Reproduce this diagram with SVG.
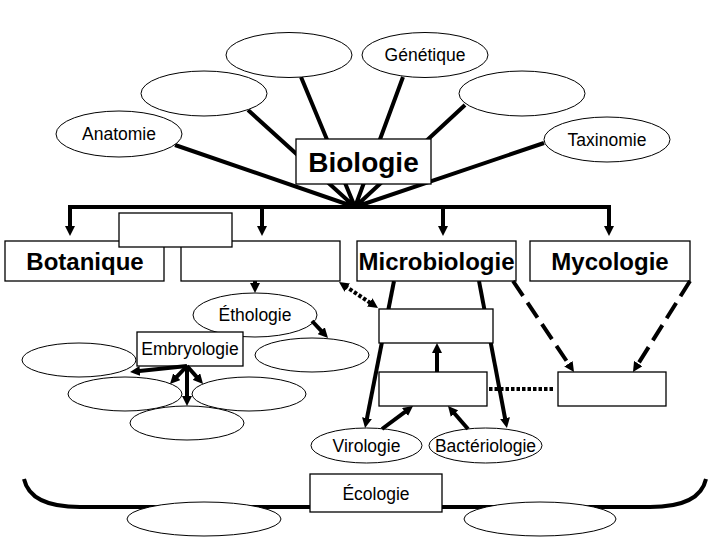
<svg xmlns="http://www.w3.org/2000/svg" width="720" height="540" viewBox="0 0 720 540">
<style>
.bx{fill:#fff;stroke:#000;stroke-width:1.3}
.el{fill:#fff;stroke:#000;stroke-width:1}
.t{font-family:"Liberation Sans",Arial,sans-serif;font-size:17.5px;fill:#000;text-anchor:middle}
.tb{font-family:"Liberation Sans",Arial,sans-serif;font-size:24px;font-weight:bold;fill:#000;text-anchor:middle}
.c{fill:none;stroke:#000;stroke-width:4}
.a{marker-end:url(#ah)}
.dot{stroke-dasharray:3.5 2}
.dash{stroke-dasharray:18 8}
</style>
<defs>
<marker id="ah" markerUnits="userSpaceOnUse" markerWidth="10" markerHeight="10" viewBox="0 0 10 10" refX="3" refY="5" orient="auto-start-reverse">
<path d="M0,0 L10,5 L0,10 Z" fill="#000"/>
</marker>
</defs>
<rect width="720" height="540" fill="#fff"/>

<g id="connectors">
<path class="c" d="M175,145 L355,207 M248,110 L355,207 M301,77 L355,207 M403,77 L355,207 M465,105 L355,207 M544,143 L355,207"/>
<path class="c" d="M68,207 H611"/>
<path class="c a" d="M70,207 V229"/>
<path class="c a" d="M262,207 V229"/>
<path class="c a" d="M443,207 V229"/>
<path class="c a" d="M609,207 V229"/>
<path class="c" d="M24,479 C28,497 45,507 80,507 L650,507 C685,507 702,497 706,479"/>
<path class="c a" d="M394,281 L366.4,421.1"/>
<path class="c a" d="M479,281 L505.6,421.1"/>
</g>

<g id="n-anatomie"><ellipse class="el" cx="119" cy="134" rx="63" ry="23"/><text class="t" x="119" y="140">Anatomie</text></g>
<g id="n-e1"><ellipse class="el" cx="204" cy="93.5" rx="63" ry="22.5"/></g>
<g id="n-e2"><ellipse class="el" cx="289" cy="55" rx="63" ry="22.5"/></g>
<g id="n-genetique"><ellipse class="el" cx="425" cy="55" rx="63" ry="22.5"/><text class="t" x="425" y="61">Génétique</text></g>
<g id="n-e3"><ellipse class="el" cx="522" cy="93.5" rx="63" ry="22.5"/></g>
<g id="n-taxinomie"><ellipse class="el" cx="607" cy="139.5" rx="63" ry="22.5"/><text class="t" x="607" y="145.5">Taxinomie</text></g>
<g id="n-biologie"><rect class="bx" x="296" y="139" width="135" height="45"/><text class="tb" style="font-size:28px" x="363.5" y="172">Biologie</text></g>

<g id="n-botanique"><rect class="bx" x="5" y="241" width="159" height="40"/><text class="tb" x="85" y="270">Botanique</text></g>
<g id="n-wide"><rect class="bx" x="181" y="241" width="159" height="40"/></g>
<g id="n-small"><rect class="bx" x="119" y="213" width="113" height="34"/></g>
<g id="n-microbiologie"><rect class="bx" x="357" y="241" width="159" height="40"/><text class="tb" x="436.5" y="270">Microbiologie</text></g>
<g id="n-mycologie"><rect class="bx" x="530" y="241" width="160" height="40"/><text class="tb" x="610" y="270">Mycologie</text></g>

<g id="n-ethologie"><ellipse class="el" cx="255" cy="315" rx="62" ry="22"/><text class="t" x="255" y="321">Éthologie</text></g>
<g id="n-e4"><ellipse class="el" cx="79" cy="360" rx="57" ry="17"/></g>
<g id="n-e5"><ellipse class="el" cx="312" cy="355" rx="57" ry="17"/></g>
<g id="n-e6"><ellipse class="el" cx="125" cy="394" rx="57" ry="17"/></g>
<g id="n-e7"><ellipse class="el" cx="249" cy="394" rx="57" ry="17"/></g>
<g id="n-e8"><ellipse class="el" cx="187" cy="423" rx="57" ry="17"/></g>
<g id="n-embryologie"><rect class="bx" x="137" y="332" width="106" height="34"/><text class="t" x="190" y="355">Embryologie</text></g>

<g id="n-boxA"><rect class="bx" x="379" y="309" width="114" height="34"/></g>
<g id="n-boxB"><rect class="bx" x="379" y="372" width="108" height="34"/></g>
<g id="n-boxC"><rect class="bx" x="558" y="372" width="108" height="34"/></g>
<g id="n-virologie"><ellipse class="el" cx="366.5" cy="445.5" rx="55.5" ry="17.5"/><text class="t" x="366.5" y="451.5">Virologie</text></g>
<g id="n-bacteriologie"><ellipse class="el" cx="485.5" cy="445.5" rx="56.5" ry="17.5"/><text class="t" x="485.5" y="451.5">Bactériologie</text></g>

<g id="n-e9"><ellipse class="el" cx="204" cy="519" rx="77" ry="17"/></g>
<g id="n-e10"><ellipse class="el" cx="540" cy="519" rx="76" ry="17"/></g>
<g id="n-ecologie"><rect class="bx" x="310" y="474" width="132" height="38"/><text class="t" x="376" y="499.5">Écologie</text></g>

<g id="connectors-2">
<path class="c a" d="M255,281 V286"/>
<path class="c a" d="M312,321 L323.2,332.9"/>
<path class="c a" d="M187,366 L137,371.3"/>
<path class="c a" d="M187,366 L174.8,378.9"/>
<path class="c a" d="M187,366 V399"/>
<path class="c a" d="M187,366 L198.4,378.8"/>
<path class="c dot" style="marker-start:url(#ah);marker-end:url(#ah)" d="M344.8,285.9 L372.2,304.1"/>
<path class="c a" d="M437,372 V350"/>
<path class="c a" d="M382,429 L407.4,410.2"/>
<path class="c a" d="M468,429 L452.6,411.3"/>
<path class="c dot" d="M489,389 H553"/>
<path class="c dash a" d="M513,281 L570.1,366.2"/>
<path class="c dash a" d="M690,281 L636.7,366.1"/>
</g>
</svg>
